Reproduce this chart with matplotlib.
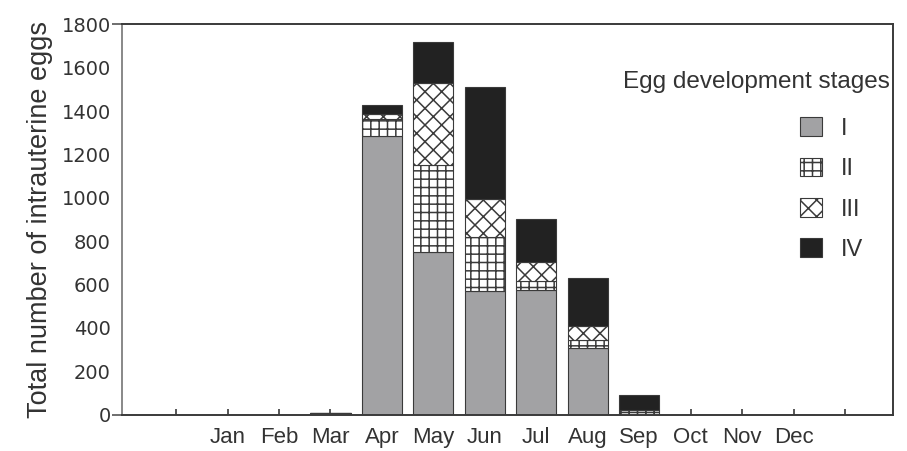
import matplotlib.pyplot as plt
import numpy as np

plt.rcParams['font.family'] = ['Liberation Sans', 'DejaVu Sans']
plt.rcParams['hatch.linewidth'] = 1.1

# data (eggs per month, by development stage)
months = ['Jan', 'Feb', 'Mar', 'Apr', 'May', 'Jun',
          'Jul', 'Aug', 'Sep', 'Oct', 'Nov', 'Dec']
stage_I = [0, 0, 8, 1286, 748, 572, 576, 307, 0, 0, 0, 0]
stage_II = [0, 0, 0, 77, 404, 247, 38, 39, 20, 0, 0, 0]
stage_III = [0, 0, 0, 23, 377, 175, 90, 64, 0, 0, 0, 0]
stage_IV = [0, 0, 0, 43, 192, 519, 198, 220, 68, 0, 0, 0]
stage_names = ['I', 'II', 'III', 'IV']
yticks = [0, 200, 400, 600, 800, 1000, 1200, 1400, 1600, 1800]

txt = '#333333'
edge = '#3a3a3a'

fig = plt.figure(figsize=(9.07, 4.51), dpi=100)
ax = fig.add_axes([0.1345, 0.0809, 0.8501, 0.8648])

x = np.arange(1, len(months) + 1)
w = 0.78
stages = [stage_I, stage_II, stage_III, stage_IV]
faces = ['#a2a2a4', 'white', 'white', '#222222']
hatches = [None, '++', 'xx', None]

bottom = np.zeros(len(months))
handles = []
for vals, fc, h in zip(stages, faces, hatches):
    vals = np.array(vals, dtype=float)
    b = ax.bar(x, vals, w, bottom=bottom, color=fc, hatch=h,
               edgecolor=edge, linewidth=0.8, zorder=2)
    handles.append(b)
    bottom += vals

ax.set_xlim(-1.05, 13.93)
ax.set_ylim(0, 1800)

# x ticks: one for every month plus an empty one at each end
ax.set_xticks(np.arange(0, 14))
ax.set_xticklabels([''] + months + [''], fontsize=16, color=txt)
ax.tick_params(axis='x', direction='in', length=4, width=1.2,
               color=edge, pad=9)

ax.set_yticks(yticks)
ax.set_yticklabels([str(v) for v in yticks], fontsize=14, color=txt,
                   family='DejaVu Sans')
ax.tick_params(axis='y', direction='out', length=7, width=1.2,
               color='#555555', pad=1)
for t in ax.yaxis.get_major_ticks()[1:-1]:
    t.tick1line.set_visible(False)

ax.set_ylabel('Total number of intrauterine eggs', fontsize=19.5,
              color=txt, labelpad=6)

for s in ['top', 'right', 'bottom']:
    ax.spines[s].set_color(edge)
    ax.spines[s].set_linewidth(1.4)
ax.spines['left'].set_color('#888888')
ax.spines['left'].set_linewidth(1.4)

# legend
ax.text(0.996, 0.853, 'Egg development stages', transform=ax.transAxes,
        ha='right', va='center', fontsize=17.5, color=txt)
ax.legend(handles, stage_names, loc='upper left',
          bbox_to_anchor=(0.879, 0.762), frameon=False, fontsize=17,
          handlelength=0.93, handleheight=0.85, handletextpad=0.8,
          labelspacing=0.75, borderpad=0, borderaxespad=0,
          labelcolor=txt)

fig.savefig('out.png', dpi=100)
